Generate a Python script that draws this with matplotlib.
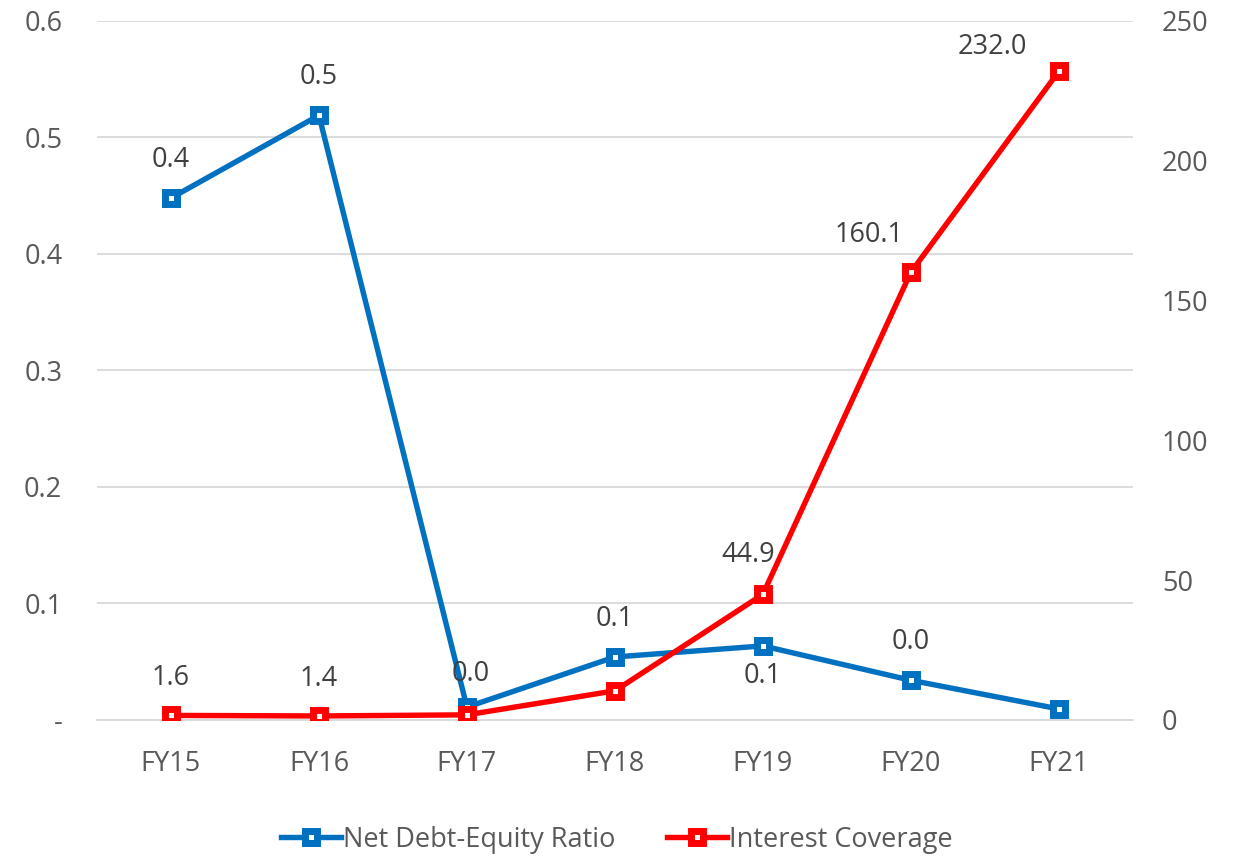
import matplotlib.pyplot as plt
from matplotlib.ticker import FuncFormatter

# data
years = ['FY15', 'FY16', 'FY17', 'FY18', 'FY19', 'FY20', 'FY21']
debt_equity = [0.448, 0.519, 0.011, 0.054, 0.0635, 0.034, 0.0094]
interest_cov = [1.6, 1.4, 1.8, 10.4, 44.9, 160.1, 232.0]
# which points carry a data label (None = no label)
debt_labels = ['0.4', '0.5', '0.0', '0.1', '0.1', '0.0', None]
cov_labels = ['1.6', '1.4', None, None, '44.9', '160.1', '232.0']

BLUE = '#0070C0'
RED = '#FF0000'
GRID = '#D9D9D9'
TICK_C = '#595959'
LABEL_C = '#404040'
FS = 19.5

plt.rcParams['font.family'] = ['Open Sans', 'DejaVu Sans']

fig = plt.figure(figsize=(12.34, 8.57), dpi=100)
ax = fig.add_axes([0.0786, 0.16, 0.8394, 0.8155])
ax2 = ax.twinx()

x = list(range(len(years)))
mk = dict(marker='s', markersize=8.5, markeredgewidth=5, markerfacecolor='white',
          linewidth=3.9, solid_joinstyle='round')

l1, = ax.plot(x, debt_equity, color=BLUE, markeredgecolor=BLUE,
              label='Net Debt-Equity Ratio', **mk)
l2, = ax2.plot(x, interest_cov, color=RED, markeredgecolor=RED,
               label='Interest Coverage', **mk)

ax.set_xlim(-0.5, 6.5)
ax.set_ylim(0, 0.6)
ax2.set_ylim(0, 250)
ax.set_yticks([0, 0.1, 0.2, 0.3, 0.4, 0.5, 0.6])
ax2.set_yticks([0, 50, 100, 150, 200, 250])
ax.set_xticks(x)
ax.set_xticklabels(years)
ax.yaxis.set_major_formatter(FuncFormatter(lambda v, p: '-' if abs(v) < 1e-9 else f'{v:.1f}'))

ax.grid(axis='y', color=GRID, linewidth=1.3)
ax.set_axisbelow(True)
for a in (ax, ax2):
    for s in ('top', 'right', 'left'):
        a.spines[s].set_visible(False)
    a.spines['bottom'].set_color(GRID)
    a.spines['bottom'].set_linewidth(1.3)
ax2.spines['bottom'].set_visible(False)

ax.tick_params(axis='y', length=0, pad=25, labelsize=FS, labelcolor=TICK_C)
ax.tick_params(axis='x', length=0, pad=22, labelsize=FS, labelcolor=TICK_C)
ax2.tick_params(axis='y', length=0, pad=21, labelsize=FS, labelcolor=TICK_C)

# data labels (offsets in pixels, excel style placements)
debt_off = [(0, 38), (0, 38), (4, 33), (0, 38), (0, -30), (0, 38), (0, 0)]
for i, (v, t) in enumerate(zip(debt_equity, debt_labels)):
    if t is None:
        continue
    dx, dy = debt_off[i]
    ax.annotate(t, (x[i], v), xytext=(dx * 0.72, dy * 0.72), textcoords='offset points',
                ha='center', va='center', fontsize=FS, color=LABEL_C)

cov_off = [(0, 37), (0, 37), (0, 0), (0, 0), (-15, 39), (-42, 37), (-67, 24)]
for i, (v, t) in enumerate(zip(interest_cov, cov_labels)):
    if t is None:
        continue
    dx, dy = cov_off[i]
    ax2.annotate(t, (x[i], v), xytext=(dx * 0.72, dy * 0.72), textcoords='offset points',
                 ha='center', va='center', fontsize=FS, color=LABEL_C)

fig.legend(handles=[l1, l2], loc='center', bbox_to_anchor=(0.5, 0.02), ncol=2,
           frameon=False, fontsize=FS, labelcolor=TICK_C, handlelength=2.2,
           handletextpad=0.1, columnspacing=1.9)

fig.savefig('out.png', dpi=100)
